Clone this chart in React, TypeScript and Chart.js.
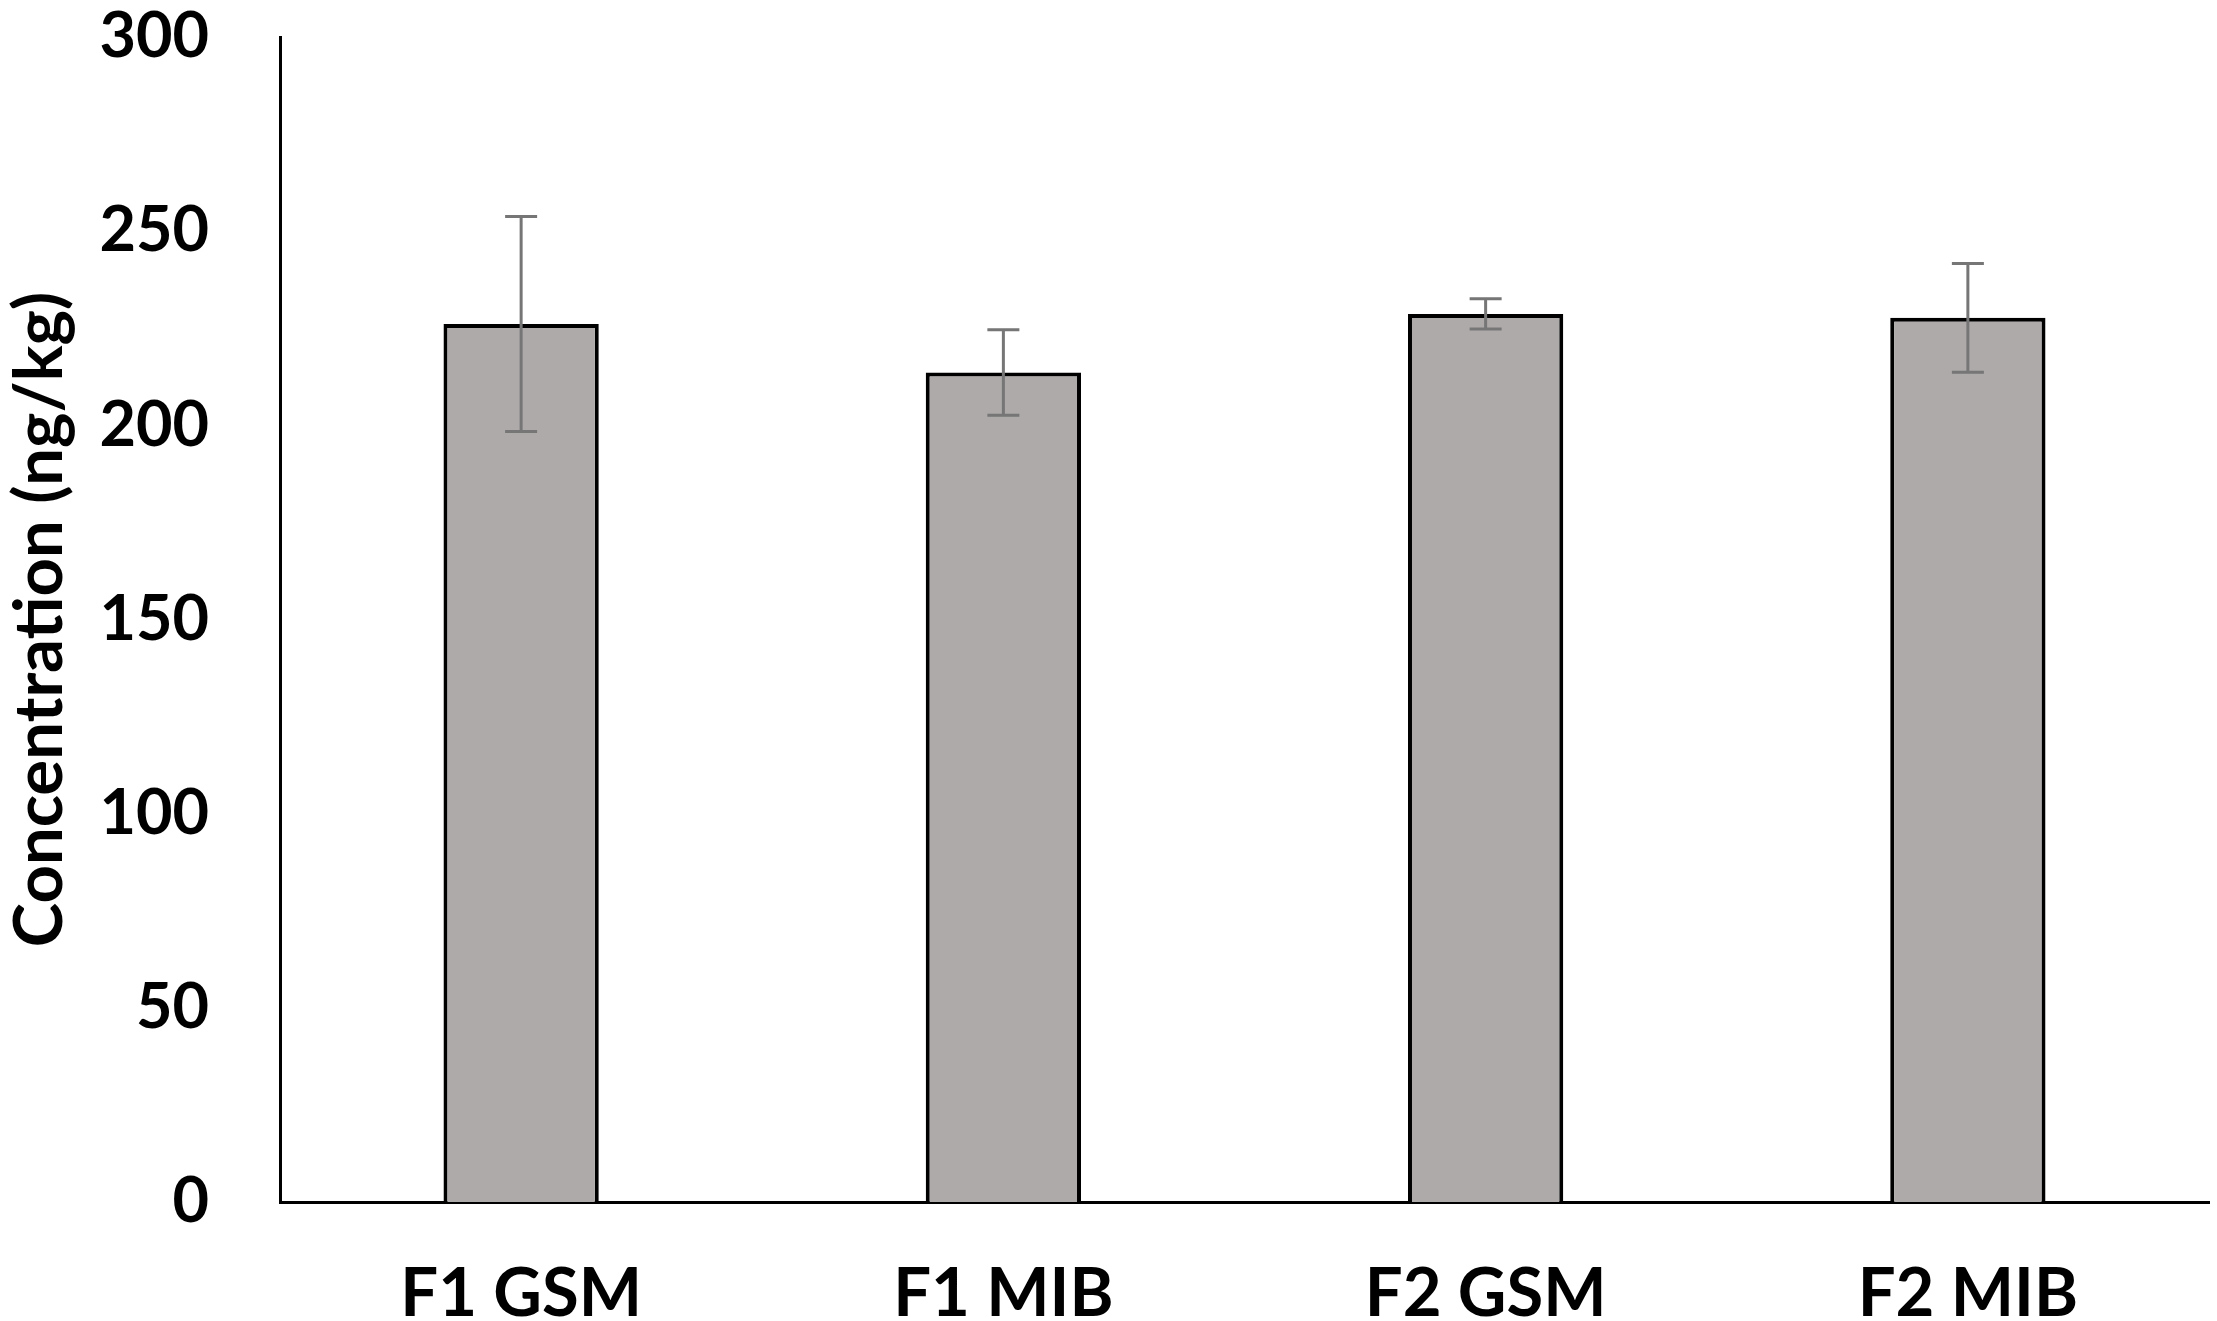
import React, { useEffect, useRef } from 'react';
import { Chart, registerables } from 'chart.js';

Chart.register(...registerables);

const categories = ['F1 GSM', 'F1 MIB', 'F2 GSM', 'F2 MIB'];
const means = [226.1, 213.6, 228.7, 227.7];
const errors = [27.7, 11.0, 3.9, 14.0];
const yTicks = [0, 50, 100, 150, 200, 250, 300];

const FONT = 'Lato, "Open Sans", sans-serif';

const errorBarPlugin = {
  id: 'errorBars',
  afterDatasetsDraw(chart: Chart) {
    const ctx = chart.ctx;
    const yScale = chart.scales.y;
    const meta = chart.getDatasetMeta(0);
    ctx.save();
    ctx.strokeStyle = '#767676';
    ctx.lineWidth = 3;
    meta.data.forEach((bar: any, i: number) => {
      const x = bar.x;
      const top = yScale.getPixelForValue(means[i] + errors[i]);
      const bottom = yScale.getPixelForValue(means[i] - errors[i]);
      const half = 16;
      ctx.beginPath();
      ctx.moveTo(x, top);
      ctx.lineTo(x, bottom);
      ctx.moveTo(x - half, top);
      ctx.lineTo(x + half, top);
      ctx.moveTo(x - half, bottom);
      ctx.lineTo(x + half, bottom);
      ctx.stroke();
    });
    ctx.restore();
  },
};

export default function App() {
  const canvasRef = useRef<HTMLCanvasElement>(null);

  useEffect(() => {
    document.body.style.margin = '0';
    document.body.style.overflow = 'hidden';
    if (!canvasRef.current) return;
    const chart = new Chart(canvasRef.current, {
      type: 'bar',
      data: {
        labels: categories,
        datasets: [
          {
            data: means,
            backgroundColor: '#aeaaaa',
            borderColor: '#000000',
            borderWidth: 4,
            barPercentage: 0.322,
            categoryPercentage: 1,
          },
        ],
      },
      options: {
        animation: false,
        responsive: true,
        maintainAspectRatio: false,
        layout: { padding: { top: 0, right: 8, left: 0, bottom: 0 } },
        plugins: {
          legend: { display: false },
          tooltip: { enabled: false },
        },
        scales: {
          x: {
            grid: { display: false, drawTicks: false },
            border: { display: true, color: '#000000', width: 3 },
            ticks: {
              color: '#000000',
              padding: 52,
              font: { family: FONT, size: 67, weight: 'bold' },
            },
            afterFit(scale: any) {
              scale.height = 119;
            },
          },
          y: {
            min: 0,
            max: 300,
            grid: { display: false, drawTicks: false },
            border: { display: true, color: '#000000', width: 3 },
            afterBuildTicks(scale: any) {
              scale.ticks = yTicks.map((v) => ({ value: v }));
            },
            ticks: {
              color: '#000000',
              padding: 71,
              font: { family: FONT, size: 63, weight: 'bold' },
            },
            title: {
              display: true,
              text: 'Concentration (ng/kg)',
              color: '#000000',
              padding: { top: 0, bottom: 0 },
              font: { family: FONT, size: 67, weight: 'bold' },
            },
            afterFit(scale: any) {
              scale.width = 280;
              scale.paddingTop = 37;
              scale.paddingBottom = 0;
            },
          },
        },
      },
      plugins: [errorBarPlugin],
    });
    return () => chart.destroy();
  }, []);

  return (
    <div style={{ position: 'relative', width: '2217px', height: '1321px', background: '#ffffff' }}>
      <canvas ref={canvasRef} aria-label="Concentration bar chart" role="img"></canvas>
    </div>
  );
}
